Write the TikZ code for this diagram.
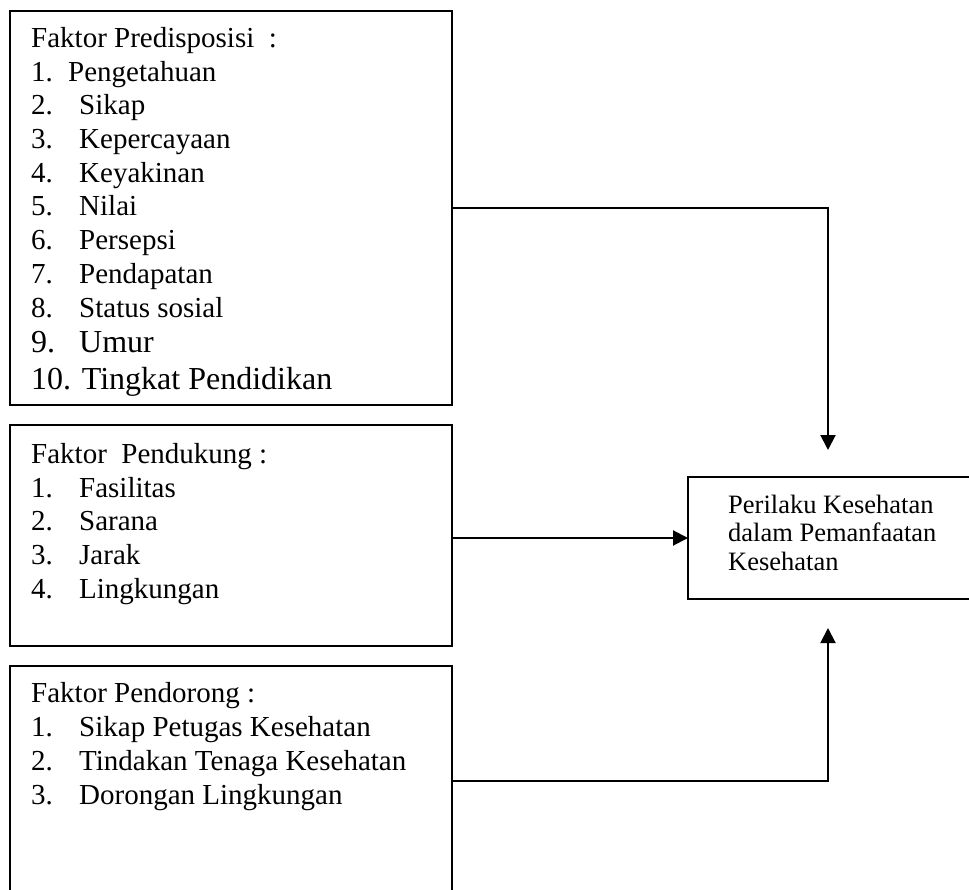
\documentclass[tikz,border=0pt]{standalone}
\usepackage{fontspec}
\setmainfont{Liberation Serif}
\usetikzlibrary{arrows.meta}
\begin{document}
\begin{tikzpicture}[x=1pt,y=-1pt,
  box/.style={draw,line width=1.5pt,inner sep=0pt,outer sep=0pt,anchor=north west},
  txt/.style={anchor=base west,inner sep=0pt,font=\fontsize{29}{34}\selectfont},
  bigtxt/.style={anchor=base west,inner sep=0pt,font=\fontsize{32}{38}\selectfont},
  smalltxt/.style={anchor=base west,inner sep=0pt,font=\fontsize{26.5}{29}\selectfont},
  conn/.style={line width=2pt,-{Triangle[length=15pt,width=15pt]}}]
\useasboundingbox (0,0) rectangle (969,890);
\clip (0,0) rectangle (969,890);
% boxes
\node[box,minimum width=442pt,minimum height=394pt] (b1) at (10,11) {};
\node[box,minimum width=442pt,minimum height=221pt] (b2) at (10,425) {};
\node[box,minimum width=442pt,minimum height=230pt] (b3) at (10,666) {};
\node[box,minimum width=290pt,minimum height=122pt] (b4) at (688,477) {};
% box 1 text
\node[txt] (h1) at (31,48) {Faktor Predisposisi\ \ :};
\node[txt] (n1) at (31,82) {1.};
\node[txt] (i1) at (68,82) {Pengetahuan};
\foreach \k/\y/\t in {2/115/Sikap,3/149/Kepercayaan,4/183/Keyakinan,5/216/Nilai,6/250/Persepsi,7/284/Pendapatan,8/318/Status sosial}{
  \node[txt] (n\k) at (31,\y) {\k.};
  \node[txt] (i\k) at (79,\y) {\t};
}
\node[bigtxt] (n9) at (31,353) {9.};
\node[bigtxt] (i9) at (79,353) {Umur};
\node[bigtxt] (n10) at (31,390) {10. Tingkat Pendidikan};
% box 2 text
\node[txt] (h2) at (31,463) {Faktor\ \ Pendukung :};
\foreach \k/\y/\t in {1/497/Fasilitas,2/530/Sarana,3/564/Jarak,4/598/Lingkungan}{
  \node[txt] (dn\k) at (31,\y) {\k.};
  \node[txt] (di\k) at (79,\y) {\t};
}
% box 3 text
\node[txt] (h3) at (31,702) {Faktor Pendorong :};
\foreach \k/\y/\t in {1/736/Sikap Petugas Kesehatan,2/770/Tindakan Tenaga Kesehatan,3/804/Dorongan Lingkungan}{
  \node[txt] (rn\k) at (31,\y) {\k.};
  \node[txt] (ri\k) at (79,\y) {\t};
}
% box 4 text
\node[smalltxt] (o1) at (728,513) {Perilaku Kesehatan};
\node[smalltxt] (o2) at (728,541) {dalam Pemanfaatan};
\node[smalltxt] (o3) at (728,570) {Kesehatan};
% connectors
\coordinate (t1) at (828,450);
\coordinate (t3) at (828,628);
\draw[conn] (b1.east) -| (t1);
\draw[conn] (b2.east |- b4.west) -- (b4.west);
\draw[conn] (b3.east) -| (t3);
\end{tikzpicture}
\end{document}
